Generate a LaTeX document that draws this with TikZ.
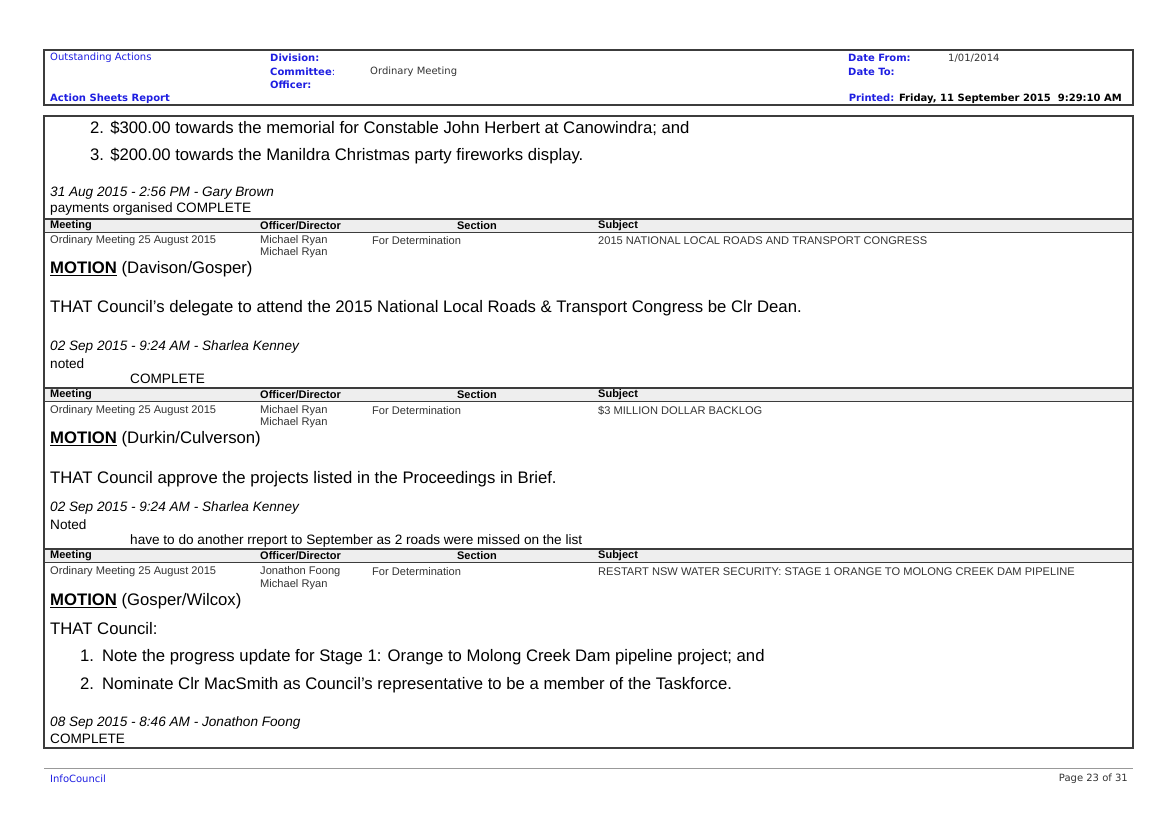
\documentclass[tikz,border=0pt]{standalone}
\usepackage{fontspec}
\setmainfont{Liberation Sans}
\newfontfamily\verdana{DejaVu Sans}
\usepackage{xcolor}
\usetikzlibrary{positioning}
\definecolor{hdrblue}{RGB}{30,30,225}
\definecolor{rulegrey}{RGB}{60,60,60}
\definecolor{headfill}{RGB}{238,238,238}

\begin{document}
\begin{tikzpicture}[x=1pt,y=-1pt,
    every node/.style={inner sep=0pt, anchor=west},
    hdr/.style={font=\verdana\fontsize{10}{11}\selectfont, text=hdrblue},
    hdrb/.style={font=\verdana\bfseries\fontsize{10}{11}\selectfont, text=hdrblue},
    body/.style={font=\fontsize{16.7}{18}\selectfont},
    note/.style={font=\fontsize{13.6}{15}\selectfont},
    stamp/.style={font=\itshape\fontsize{13.6}{15}\selectfont},
    cell/.style={font=\fontsize{11.1}{12}\selectfont, text=black!80},
    colhead/.style={font=\bfseries\fontsize{11}{12}\selectfont},
    motion/.style={font=\fontsize{16.7}{18}\selectfont}]
    \useasboundingbox (0,0) rectangle (1174,830);
    % page header
    \draw[rulegrey, line width=1.2pt] (44,50) rectangle (1133,105);
    \node[hdr] (outst) at (50,58) {Outstanding Actions};
    \node[hdrb] (asr) at (50,99) {Action Sheets Report};
    \node[hdrb] (div) at (270,58) {Division:};
    \node[hdrb] (comm) at (270,72) {Committee\textmd{:}};
    \node[hdrb] (offc) at (270,85) {Officer:};
    \node[hdr, text=black!80] (commv) at (370,72) {Ordinary Meeting};
    \node[hdrb] (dfrom) at (848,58) {Date From:};
    \node[hdr, text=black!80] (dfromv) at (948,58) {1/01/2014};
    \node[hdrb] (dto) at (848,72) {Date To:};
    \node[hdrb, anchor=east] (prnt) at (1122,99) {Printed: \textcolor{black}{Friday, 11 September 2015\ \ 9:29:10 AM}};
    % body frame
    \draw[rulegrey, line width=1.5pt] (44,116) rectangle (1133,748);
    \node[body] (i2) at (90,128) {2. \$300.00 towards the memorial for Constable John Herbert at Canowindra; and};
    \node[body] (i3) at (90,156) {3. \$200.00 towards the Manildra Christmas party fireworks display.};
    \node[stamp] (st1) at (50,193) {31 Aug 2015 - 2:56 PM - Gary Brown};
    \node[note] (n1) at (50,209) {payments organised COMPLETE};
    % table header rows
    \foreach \ty/\nm in {219/a, 388/b, 549/c}{
      \fill[headfill] (45,\ty) rectangle (1132,\ty+13);
      \draw[rulegrey, line width=1.2pt] (44,\ty) -- (1133,\ty);
      \draw[rulegrey, line width=0.8pt] (44,\ty+13) -- (1133,\ty+13);
      \node[colhead] (meet\nm) at (50,\ty+7) {Meeting};
      \node[colhead] (offd\nm) at (260,\ty+7) {Officer/Director};
      \node[colhead, anchor=center] (sect\nm) at (477,\ty+7) {Section};
      \node[colhead] (subj\nm) at (598,\ty+7) {Subject};
    }
    % first item
    \node[cell] (m1) at (50,241) {Ordinary Meeting 25 August 2015};
    \node[cell] (o1) at (260,241) {Michael Ryan};
    \node[cell] (o1b) at (260,253) {Michael Ryan};
    \node[cell] (s1) at (372,241) {For Determination};
    \node[cell] (j1) at (598,241) {2015 NATIONAL LOCAL ROADS AND TRANSPORT CONGRESS};
    \node[motion] (mo1) at (50,269) {\textbf{\underline{MOTION}} (Davison/Gosper)};
    \node[body] (t1) at (50,308) {THAT Council's delegate to attend the 2015 National Local Roads \& Transport Congress be Clr Dean.};
    \node[stamp] (st2) at (50,347) {02 Sep 2015 - 9:24 AM - Sharlea Kenney};
    \node[note] (n2) at (50,364) {noted};
    \node[note] (n2b) at (130,379) {COMPLETE};
    % second item
    \node[cell] (m2) at (50,411) {Ordinary Meeting 25 August 2015};
    \node[cell] (o2) at (260,411) {Michael Ryan};
    \node[cell] (o2b) at (260,423) {Michael Ryan};
    \node[cell] (s2) at (372,411) {For Determination};
    \node[cell] (j2) at (598,411) {\$3 MILLION DOLLAR BACKLOG};
    \node[motion] (mo2) at (50,439) {\textbf{\underline{MOTION}} (Durkin/Culverson)};
    \node[body] (t2) at (50,479) {THAT Council approve the projects listed in the Proceedings in Brief.};
    \node[stamp] (st3) at (50,508) {02 Sep 2015 - 9:24 AM - Sharlea Kenney};
    \node[note] (n3) at (50,525) {Noted};
    \node[note] (n3b) at (130,541) {have to do another rreport to September as 2 roads were missed on the list};
    % third item
    \node[cell] (m3) at (50,572) {Ordinary Meeting 25 August 2015};
    \node[cell] (o3) at (260,572) {Jonathon Foong};
    \node[cell] (o3b) at (260,585) {Michael Ryan};
    \node[cell] (s3) at (372,572) {For Determination};
    \node[cell] (j3) at (598,572) {RESTART NSW WATER SECURITY: STAGE 1 ORANGE TO MOLONG CREEK DAM PIPELINE};
    \node[motion] (mo3) at (50,601) {\textbf{\underline{MOTION}} (Gosper/Wilcox)};
    \node[body] (t3) at (50,629) {THAT Council:};
    \node[body] (p1) at (80,657) {1.\hspace{8pt}Note the progress update for Stage 1: Orange to Molong Creek Dam pipeline project; and};
    \node[body] (p2) at (80,685) {2.\hspace{8pt}Nominate Clr MacSmith as Council's representative to be a member of the Taskforce.};
    \node[stamp] (st4) at (50,723) {08 Sep 2015 - 8:46 AM - Jonathon Foong};
    \node[note] (n4) at (50,739) {COMPLETE};
    % footer
    \draw[black!40, line width=0.8pt] (44,768) -- (1133,768);
    \node[hdr] (ic) at (50,779) {InfoCouncil};
    \node[hdr, text=black!80, anchor=east] (pg) at (1128,779) {Page 23 of 31};
\end{tikzpicture}
\end{document}
